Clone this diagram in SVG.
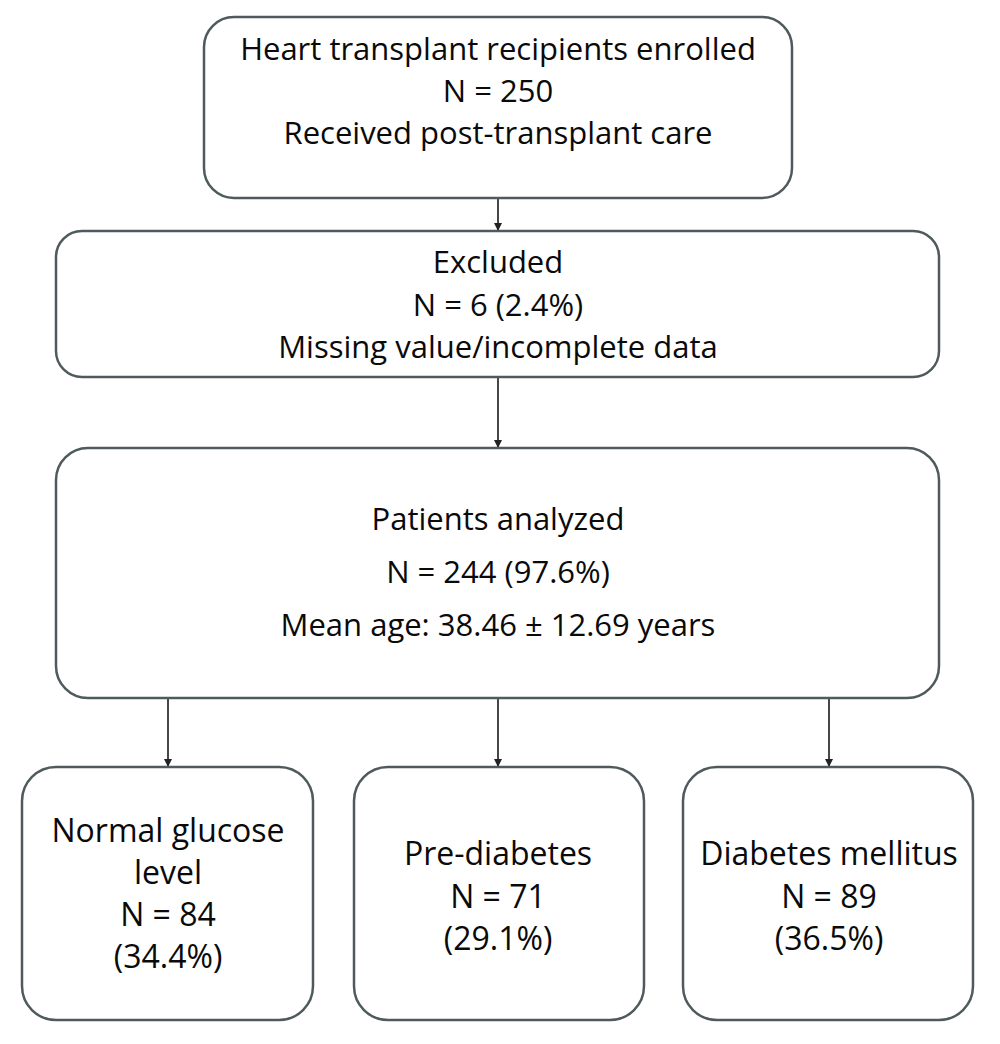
<svg xmlns="http://www.w3.org/2000/svg" width="1000" height="1044" viewBox="0 0 1000 1044">
<style>
.box{fill:#ffffff;stroke:#4f5a5c;stroke-width:2.5}
.t{font-family:"Open Sans","Liberation Sans",sans-serif;font-size:31px;fill:#0a0a0a;text-anchor:middle}
.b{font-size:32px}
.c{stroke:#333;stroke-width:1.8;fill:none}
</style>
<defs>
<marker id="ah" viewBox="0 0 10 10" refX="10" refY="5" markerWidth="8" markerHeight="8" orient="auto" markerUnits="userSpaceOnUse">
<path d="M0,0 L10,5 L0,10 z" fill="#222"/>
</marker>
</defs>
<rect width="1000" height="1044" fill="#ffffff"/>
<g id="connectors">
<line class="c" x1="498" y1="198" x2="498" y2="231" marker-end="url(#ah)"/>
<line class="c" x1="498" y1="377" x2="498" y2="448" marker-end="url(#ah)"/>
<line class="c" x1="168" y1="698" x2="168" y2="767" marker-end="url(#ah)"/>
<line class="c" x1="498" y1="698" x2="498" y2="767" marker-end="url(#ah)"/>
<line class="c" x1="829" y1="698" x2="829" y2="767" marker-end="url(#ah)"/>
</g>
<g id="enrolled">
<rect class="box" x="204" y="17" width="588" height="181" rx="30"/>
<text class="t" x="498" y="60">Heart transplant recipients enrolled</text>
<text class="t" x="498" y="102">N = 250</text>
<text class="t" x="498" y="144">Received post-transplant care</text>
</g>
<g id="excluded">
<rect class="box" x="56" y="231" width="883" height="146" rx="26"/>
<text class="t" x="498" y="273">Excluded</text>
<text class="t" x="498" y="316">N = 6 (2.4%)</text>
<text class="t" x="498" y="358">Missing value/incomplete data</text>
</g>
<g id="analyzed">
<rect class="box" x="56" y="448" width="883" height="250" rx="32"/>
<text class="t" x="498" y="530">Patients analyzed</text>
<text class="t" x="498" y="583">N = 244 (97.6%)</text>
<text class="t" x="498" y="636">Mean age: 38.46 ± 12.69 years</text>
</g>
<g id="normal">
<rect class="box" x="22" y="767" width="291" height="253" rx="34"/>
<text class="t b" x="168" y="842">Normal glucose</text>
<text class="t b" x="168" y="884">level</text>
<text class="t b" x="168" y="926">N = 84</text>
<text class="t b" x="168" y="968">(34.4%)</text>
</g>
<g id="prediabetes">
<rect class="box" x="354" y="767" width="290" height="253" rx="34"/>
<text class="t b" x="498" y="865">Pre-diabetes</text>
<text class="t b" x="498" y="908">N = 71</text>
<text class="t b" x="498" y="950">(29.1%)</text>
</g>
<g id="diabetes">
<rect class="box" x="683" y="767" width="290" height="253" rx="34"/>
<text class="t b" x="829" y="865">Diabetes mellitus</text>
<text class="t b" x="829" y="908">N = 89</text>
<text class="t b" x="829" y="950">(36.5%)</text>
</g>
</svg>
